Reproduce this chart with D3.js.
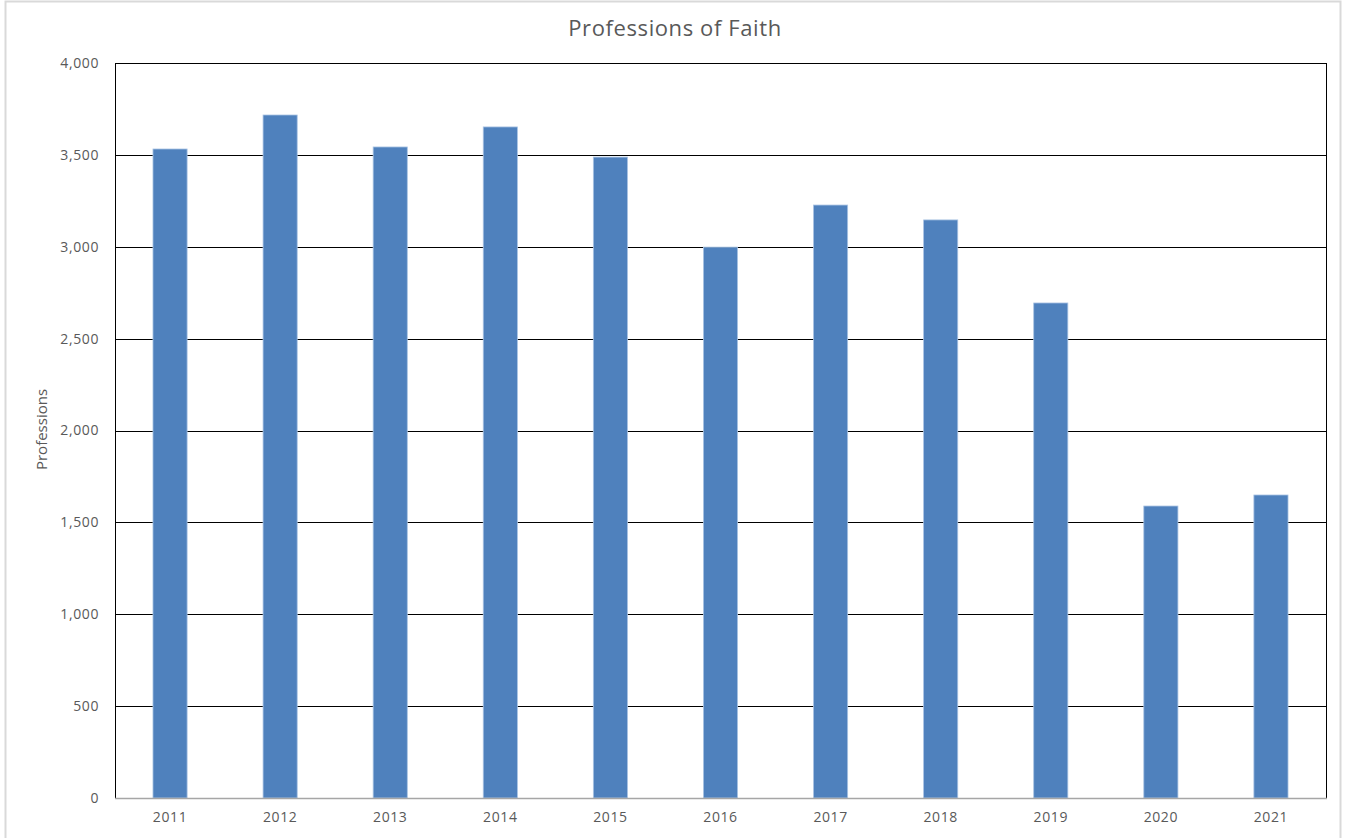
<!DOCTYPE html>
<html>
<head>
<meta charset="utf-8">
<script src="https://cdn.jsdelivr.net/npm/d3@7/dist/d3.min.js"></script>
<style>
  html, body { margin: 0; padding: 0; background: #fff; }
  svg { display: block; }
  text { font-family: "Open Sans", "Noto Sans", sans-serif; fill: #595959; }
</style>
</head>
<body>
<svg id="chart" width="1348" height="838"></svg>
<script>
// Annual professions of faith
const years = ["2011", "2012", "2013", "2014", "2015", "2016", "2017", "2018", "2019", "2020", "2021"];
const professions = [3532, 3717, 3543, 3652, 3488, 2998, 3227, 3146, 2694, 1589, 1649];
const yTicks = [0, 500, 1000, 1500, 2000, 2500, 3000, 3500, 4000];

const svg = d3.select("#chart");
const W = 1348, H = 838;
const m = { top: 63, right: 22, bottom: 40, left: 115 };
const iw = W - m.left - m.right;
const ih = H - m.top - m.bottom;

// outer chart frame
svg.append("rect")
  .attr("x", 5.5).attr("y", 1.5)
  .attr("width", 1335).attr("height", 845)
  .attr("fill", "#fff").attr("stroke", "#d9d9d9").attr("stroke-width", 2);

const g = svg.append("g").attr("transform", `translate(${m.left},${m.top})`);

const x = d3.scaleBand().domain(years).range([0, iw]).paddingInner(0.69).paddingOuter(0.345);
const y = d3.scaleLinear().domain([0, 4000]).range([ih, 0]);

// horizontal gridlines
g.append("g")
  .selectAll("line")
  .data(yTicks.filter(d => d > 0))
  .join("line")
  .attr("x1", 0).attr("x2", iw)
  .attr("y1", d => Math.round(y(d)) + 0.5).attr("y2", d => Math.round(y(d)) + 0.5)
  .attr("stroke", "#000").attr("stroke-width", 1);

// plot area sides
g.append("line").attr("x1", 0.5).attr("x2", 0.5).attr("y1", 0).attr("y2", ih)
  .attr("stroke", "#000");
g.append("line").attr("x1", iw + 0.5).attr("x2", iw + 0.5).attr("y1", 0).attr("y2", ih)
  .attr("stroke", "#000");

// bars
g.append("g")
  .selectAll("rect")
  .data(years.map((yr, i) => ({ yr, v: professions[i] })))
  .join("rect")
  .attr("x", d => x(d.yr))
  .attr("y", d => y(d.v))
  .attr("width", x.bandwidth())
  .attr("height", d => ih - y(d.v))
  .attr("fill", "#4f81bd")
  .attr("stroke", "#a9c3e3")
  .attr("stroke-width", 0.8);

// baseline
g.append("line").attr("x1", 0).attr("x2", iw + 1).attr("y1", ih + 0.5).attr("y2", ih + 0.5)
  .attr("stroke", "#a6a6a6").attr("stroke-width", 1.5);

// y axis
const yAxis = g.append("g")
  .call(d3.axisLeft(y).tickValues(yTicks).tickFormat(d3.format(",")).tickSize(0).tickPadding(16));
yAxis.select(".domain").remove();
yAxis.selectAll("text").style("font-size", "14px").style("letter-spacing", "0.6px").attr("fill", "#595959");

// x axis
const xAxis = g.append("g").attr("transform", `translate(0,${ih})`)
  .call(d3.axisBottom(x).tickSize(0).tickPadding(14));
xAxis.select(".domain").remove();
xAxis.selectAll("text").style("font-size", "14px").style("letter-spacing", "0.6px").attr("fill", "#595959");

// title
svg.append("text")
  .attr("x", 675).attr("y", 36)
  .attr("text-anchor", "middle")
  .style("font-size", "22px")
  .style("letter-spacing", "0.6px")
  .text("Professions of Faith");

// y axis label
svg.append("text")
  .attr("transform", `translate(47,${m.top + ih / 2 - 1}) rotate(-90)`)
  .attr("text-anchor", "middle")
  .style("font-size", "15px")
  .text("Professions");
</script>
</body>
</html>
